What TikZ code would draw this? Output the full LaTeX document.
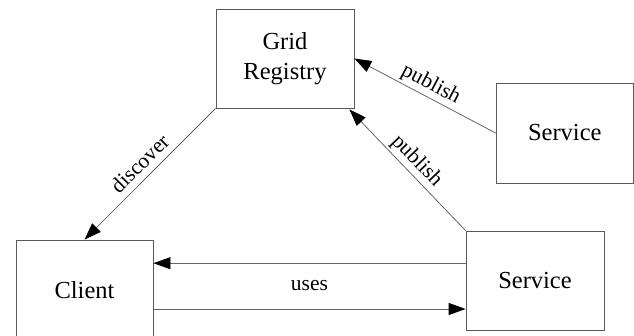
\documentclass[tikz,border=0pt]{standalone}
\usepackage{fontspec}
\setmainfont{Liberation Serif}
\usetikzlibrary{arrows.meta,calc}
\begin{document}
\begin{tikzpicture}[x=1pt,y=-1pt,
  box/.style={draw=black!65, line width=0.8pt, rectangle, inner sep=0pt,
    minimum width=138pt, minimum height=99pt, align=center,
    font=\fontsize{24.5}{30}\selectfont},
  conn/.style={draw=black!60, line width=0.8pt,
    -{Triangle[length=17pt,width=12pt,color=black]}},
  lab/.style={font=\fontsize{21.5}{24}\selectfont, inner sep=1pt,
    text height=0.75em, text depth=0.25em}
]
\useasboundingbox (0,0) rectangle (634,335);
\clip (0,0) rectangle (634,335);
\fill[white] (0,0) rectangle (634,335);

\node[box] (grid) at (285,58.5) {Grid\\Registry};
\node[box, minimum width=137.5pt, minimum height=100pt] (svc1) at (564.8,133) {Service};
\node[box] (svc2) at (535,280.5) {Service};
\node[box, minimum width=137pt, minimum height=100pt] (client) at (84.5,290) {Client};

\coordinate (gtip) at ($(grid.south east)+(-5,1)$);

\draw[conn] (grid.south west) -- node[lab, sloped, midway, above=3.5pt] {discover} (client.north);
\draw[conn] (svc1.west) -- node[lab, sloped, midway, above=3.5pt] {publish} (grid.east);
\draw[conn] (svc2.north west) -- node[lab, sloped, midway, above=3.5pt] {publish} (gtip);
\draw[conn] ([yshift=17.3pt]svc2.west) -- node[lab, midway, anchor=base, yshift=-27.4pt] {uses} ([yshift=17.3pt]svc2.west -| client.east);
\draw[conn] ([yshift=-19pt]client.east) -- ([yshift=-19pt]client.east -| svc2.west);
\end{tikzpicture}
\end{document}
